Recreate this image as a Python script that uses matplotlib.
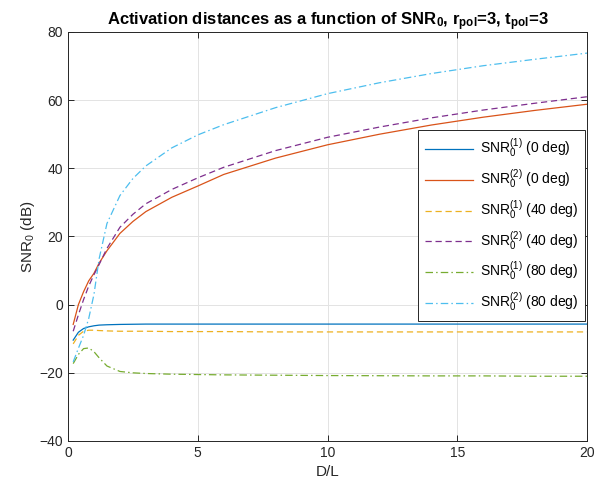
import matplotlib
matplotlib.use("Agg")
import matplotlib.pyplot as plt

plt.rcParams['font.family'] = ['Liberation Sans', 'DejaVu Sans']
plt.rcParams['mathtext.fontset'] = 'custom'
plt.rcParams['mathtext.rm'] = 'Liberation Sans'
plt.rcParams['mathtext.it'] = 'Liberation Sans:italic'
plt.rcParams['mathtext.bf'] = 'Liberation Sans:bold'
plt.rcParams['mathtext.default'] = 'regular'

# ---- data ----
D = [0.2, 0.4, 0.6, 0.8, 1.0, 1.2, 1.5, 2.0, 2.5, 3.0, 4.0, 5.0, 6.0, 8.0,
     10, 12, 14, 16, 18, 20]

snr1_0deg = [-10.4, -8.1, -7.0, -6.5, -6.2, -6.0, -5.9, -5.8, -5.75, -5.7,
             -5.7, -5.7, -5.7, -5.7, -5.7, -5.7, -5.7, -5.7, -5.7, -5.7]
snr2_0deg = [-5.8, 0.0, 3.8, 7.0, 9.2, 12.2, 15.8, 20.9, 24.4, 27.3,
             31.5, 34.8, 38.2, 43.0, 46.9, 50.0, 52.7, 55.0, 57.0, 58.8]
snr1_40deg = [-11.5, -9.0, -7.8, -7.5, -7.5, -7.6, -7.7, -7.8, -7.8, -7.8,
              -7.9, -7.9, -7.9, -8.0, -8.0, -8.0, -8.0, -8.0, -8.0, -8.0]
snr2_40deg = [-7.8, -3.0, 1.5, 5.5, 8.8, 11.8, 16.5, 22.7, 26.5, 29.6,
              33.8, 37.2, 40.3, 45.2, 49.1, 52.1, 54.8, 57.1, 59.1, 61.0]
snr1_80deg = [-17.3, -14.6, -12.9, -12.7, -13.8, -15.6, -18.0, -19.6, -20.0, -20.2,
              -20.4, -20.5, -20.6, -20.7, -20.8, -20.85, -20.9, -20.9, -21.0, -21.0]
snr2_80deg = [-16.8, -12.8, -9.0, -4.0, 3.0, 13.5, 23.8, 32.0, 37.0, 40.7,
              46.0, 49.8, 52.8, 57.8, 61.9, 65.1, 67.8, 70.1, 72.0, 73.8]

labels = [r'SNR$_0^{(1)}$ (0 deg)', r'SNR$_0^{(2)}$ (0 deg)',
          r'SNR$_0^{(1)}$ (40 deg)', r'SNR$_0^{(2)}$ (40 deg)',
          r'SNR$_0^{(1)}$ (80 deg)', r'SNR$_0^{(2)}$ (80 deg)']
xticks = [0, 5, 10, 15, 20]
yticks = [-40, -20, 0, 20, 40, 60, 80]

colors = ['#0072BD', '#D95319', '#EDB120', '#7E2F8E', '#77AC30', '#4DBEEE']
dash = (5, 3)
dashdot = (6, 2.5, 1.2, 2.5)

fig = plt.figure(figsize=(5.95, 4.95), dpi=100)
ax = fig.add_axes([0.1143, 0.1091, 0.8723, 0.8263])

series = [snr1_0deg, snr2_0deg, snr1_40deg, snr2_40deg, snr1_80deg, snr2_80deg]
styles = [None, None, dash, dash, dashdot, dashdot]
for y, c, st, lab in zip(series, colors, styles, labels):
    line, = ax.plot(D, y, color=c, lw=0.9, label=lab)
    if st is not None:
        line.set_dashes(st)

ax.set_xlim(0, 20)
ax.set_ylim(-40, 80)
ax.set_xticks(xticks)
ax.set_yticks(yticks)
ax.grid(True, color='#e3e3e3', lw=0.7)
ax.set_axisbelow(True)
ax.tick_params(direction='in', top=True, right=True, length=4, width=0.7,
               labelsize=10, colors='#262626')
for s in ax.spines.values():
    s.set_color('#262626')
    s.set_linewidth(0.7)

ax.set_xlabel('D/L', fontsize=11, color='#262626')
ax.set_ylabel(r'SNR$_0$ (dB)', fontsize=11, color='#262626', labelpad=2)
ax.set_title(r'Activation distances as a function of SNR$_{\mathbf{0}}$, '
             r'r$_{\mathbf{pol}}$=3, t$_{\mathbf{pol}}$=3',
             fontsize=12, fontweight='bold', pad=5)

leg = ax.legend(loc='upper right', bbox_to_anchor=(0.996, 0.760),
                fontsize=10, handlelength=3.4, labelspacing=0.55,
                borderaxespad=0, fancybox=False, framealpha=1,
                edgecolor='#262626', borderpad=0.5, handletextpad=0.5)
leg.get_frame().set_linewidth(0.7)

fig.savefig('out.png', dpi=100)
